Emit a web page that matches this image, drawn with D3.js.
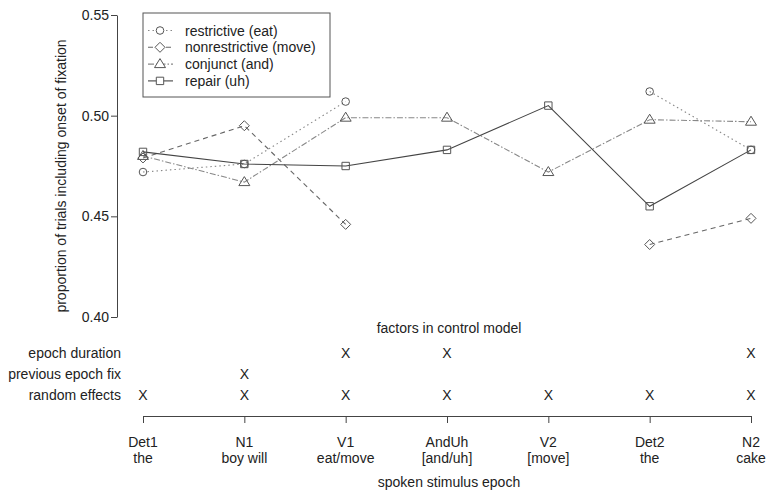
<!DOCTYPE html>
<html>
<head>
<meta charset="utf-8">
<script src="https://cdn.jsdelivr.net/npm/d3@7"></script>
<style>
  body { margin: 0; background: #fff; }
  text { font-family: "Liberation Sans", Arial, sans-serif; fill: #222; }
</style>
</head>
<body>
<div id="chart"></div>
<script>
var epochs = ['Det1', 'N1', 'V1', 'AndUh', 'V2', 'Det2', 'N2'];
var epochWords = ['the', 'boy will', 'eat/move', '[and/uh]', '[move]', 'the', 'cake'];

var restrictive = [0.472, 0.476, 0.507, null, null, 0.512, 0.483];
var nonrestrictive = [0.479, 0.495, 0.446, null, null, 0.436, 0.449];
var conjunct = [0.480, 0.467, 0.499, 0.499, 0.472, 0.498, 0.497];
var repair = [0.482, 0.476, 0.475, 0.483, 0.505, 0.455, 0.483];

var yTicks = [0.40, 0.45, 0.50, 0.55];

var factorNames = ['epoch duration', 'previous epoch fix', 'random effects'];
var epochDuration = [0, 0, 1, 1, 0, 0, 1];
var previousFix = [0, 1, 0, 0, 0, 0, 0];
var randomEffects = [1, 1, 1, 1, 1, 1, 1];

var width = 768, height = 493;

var svg = d3.select('#chart')
    .append('svg')
    .attr('width', width)
    .attr('height', height);

var x = d3.scalePoint()
    .domain(epochs)
    .range([143, 751]);

var y = d3.scaleLinear()
    .domain([0.40, 0.55])
    .range([317, 15]);

// y axis
var yAxis = svg.append('g')
    .attr('transform', 'translate(117,0)')
    .call(d3.axisLeft(y).tickValues(yTicks).tickFormat(d3.format('.2f')).tickSize(6).tickSizeOuter(0));
yAxis.select('.domain').attr('stroke', '#444');
yAxis.selectAll('line').attr('stroke', '#444');
yAxis.selectAll('text')
    .attr('font-size', '14px')
    .attr('fill', '#222')
    .attr('x', -8)
    .style('font-family', '"Liberation Sans", Arial, sans-serif');

svg.append('text')
    .attr('transform', 'translate(66,' + 176 + ') rotate(-90)')
    .attr('text-anchor', 'middle')
    .attr('font-size', '14px')
    .text('proportion of trials including onset of fixation');

// series
var series = [
  { name: 'restrictive (eat)', values: restrictive, dash: '1.5,3', color: '#888', shape: 'circle' },
  { name: 'nonrestrictive (move)', values: nonrestrictive, dash: '5,4', color: '#666', shape: 'diamond' },
  { name: 'conjunct (and)', values: conjunct, dash: '6,2,1.5,2', color: '#888', shape: 'triangle' },
  { name: 'repair (uh)', values: repair, dash: null, color: '#444', shape: 'square' }
];

function symbolPath(shape, cx, cy) {
  if (shape == 'circle') {
    var r = 3.8;
    return 'M' + (cx + r) + ',' + cy + 'A' + r + ',' + r + ' 0 1,1 ' + (cx - r) + ',' + cy + 'A' + r + ',' + r + ' 0 1,1 ' + (cx + r) + ',' + cy + 'Z';
  } else if (shape == 'diamond') {
    var d = 5;
    return 'M' + cx + ',' + (cy - d) + 'L' + (cx + d) + ',' + cy + 'L' + cx + ',' + (cy + d) + 'L' + (cx - d) + ',' + cy + 'Z';
  } else if (shape == 'triangle') {
    return 'M' + cx + ',' + (cy - 5.5) + 'L' + (cx + 5.5) + ',' + (cy + 3.5) + 'L' + (cx - 5.5) + ',' + (cy + 3.5) + 'Z';
  } else {
    var s = 3.7;
    return 'M' + (cx - s) + ',' + (cy - s) + 'H' + (cx + s) + 'V' + (cy + s) + 'H' + (cx - s) + 'Z';
  }
}

var line = d3.line()
    .defined(function (d) { return d != null; })
    .x(function (d, i) { return x(epochs[i]); })
    .y(function (d) { return y(d); });

series.forEach(function (s) {
  svg.append('path')
      .attr('d', line(s.values))
      .attr('fill', 'none')
      .attr('stroke', s.color)
      .attr('stroke-width', 1.1)
      .attr('stroke-dasharray', s.dash);

  s.values.forEach(function (v, i) {
    if (v == null) return;
    svg.append('path')
        .attr('d', symbolPath(s.shape, x(epochs[i]), y(v)))
        .attr('fill', 'none')
        .attr('stroke', '#555')
        .attr('stroke-width', 1);
  });
});

// legend
var legend = svg.append('g');
legend.append('rect')
    .attr('x', 143).attr('y', 13)
    .attr('width', 187).attr('height', 84)
    .attr('fill', '#fff')
    .attr('stroke', '#555');

series.forEach(function (s, i) {
  var ly = 30.5 + i * 16.8;
  legend.append('line')
      .attr('x1', 148).attr('x2', 173)
      .attr('y1', ly).attr('y2', ly)
      .attr('stroke', s.color)
      .attr('stroke-width', 1.1)
      .attr('stroke-dasharray', s.dash);
  legend.append('path')
      .attr('d', symbolPath(s.shape, 160, ly))
      .attr('fill', '#fff')
      .attr('stroke', '#555');
  legend.append('text')
      .attr('x', 185).attr('y', ly + 5)
      .attr('font-size', '14px')
      .text(s.name);
});

// factors table
svg.append('text')
    .attr('x', 449).attr('y', 333)
    .attr('text-anchor', 'middle')
    .attr('font-size', '14px')
    .text('factors in control model');

var factorRows = [epochDuration, previousFix, randomEffects];
factorRows.forEach(function (row, j) {
  var ry = 358 + j * 21;
  svg.append('text')
      .attr('x', 121).attr('y', ry)
      .attr('text-anchor', 'end')
      .attr('font-size', '14px')
      .text(factorNames[j]);
  row.forEach(function (v, i) {
    if (!v) return;
    svg.append('text')
        .attr('x', x(epochs[i])).attr('y', ry)
        .attr('text-anchor', 'middle')
        .attr('font-size', '14px')
        .text('X');
  });
});

// bottom axis
var xAxis = svg.append('g')
    .attr('transform', 'translate(0,416)')
    .call(d3.axisBottom(x).tickSize(7).tickSizeOuter(0).tickFormat(''));
xAxis.select('.domain').attr('stroke', '#444');
xAxis.selectAll('line').attr('stroke', '#444');

epochs.forEach(function (e, i) {
  svg.append('text')
      .attr('x', x(e)).attr('y', 447)
      .attr('text-anchor', 'middle')
      .attr('font-size', '14px')
      .text(e);
  svg.append('text')
      .attr('x', x(e)).attr('y', 463)
      .attr('text-anchor', 'middle')
      .attr('font-size', '14px')
      .text(epochWords[i]);
});

svg.append('text')
    .attr('x', 449).attr('y', 487)
    .attr('text-anchor', 'middle')
    .attr('font-size', '14px')
    .text('spoken stimulus epoch');
</script>
</body>
</html>
